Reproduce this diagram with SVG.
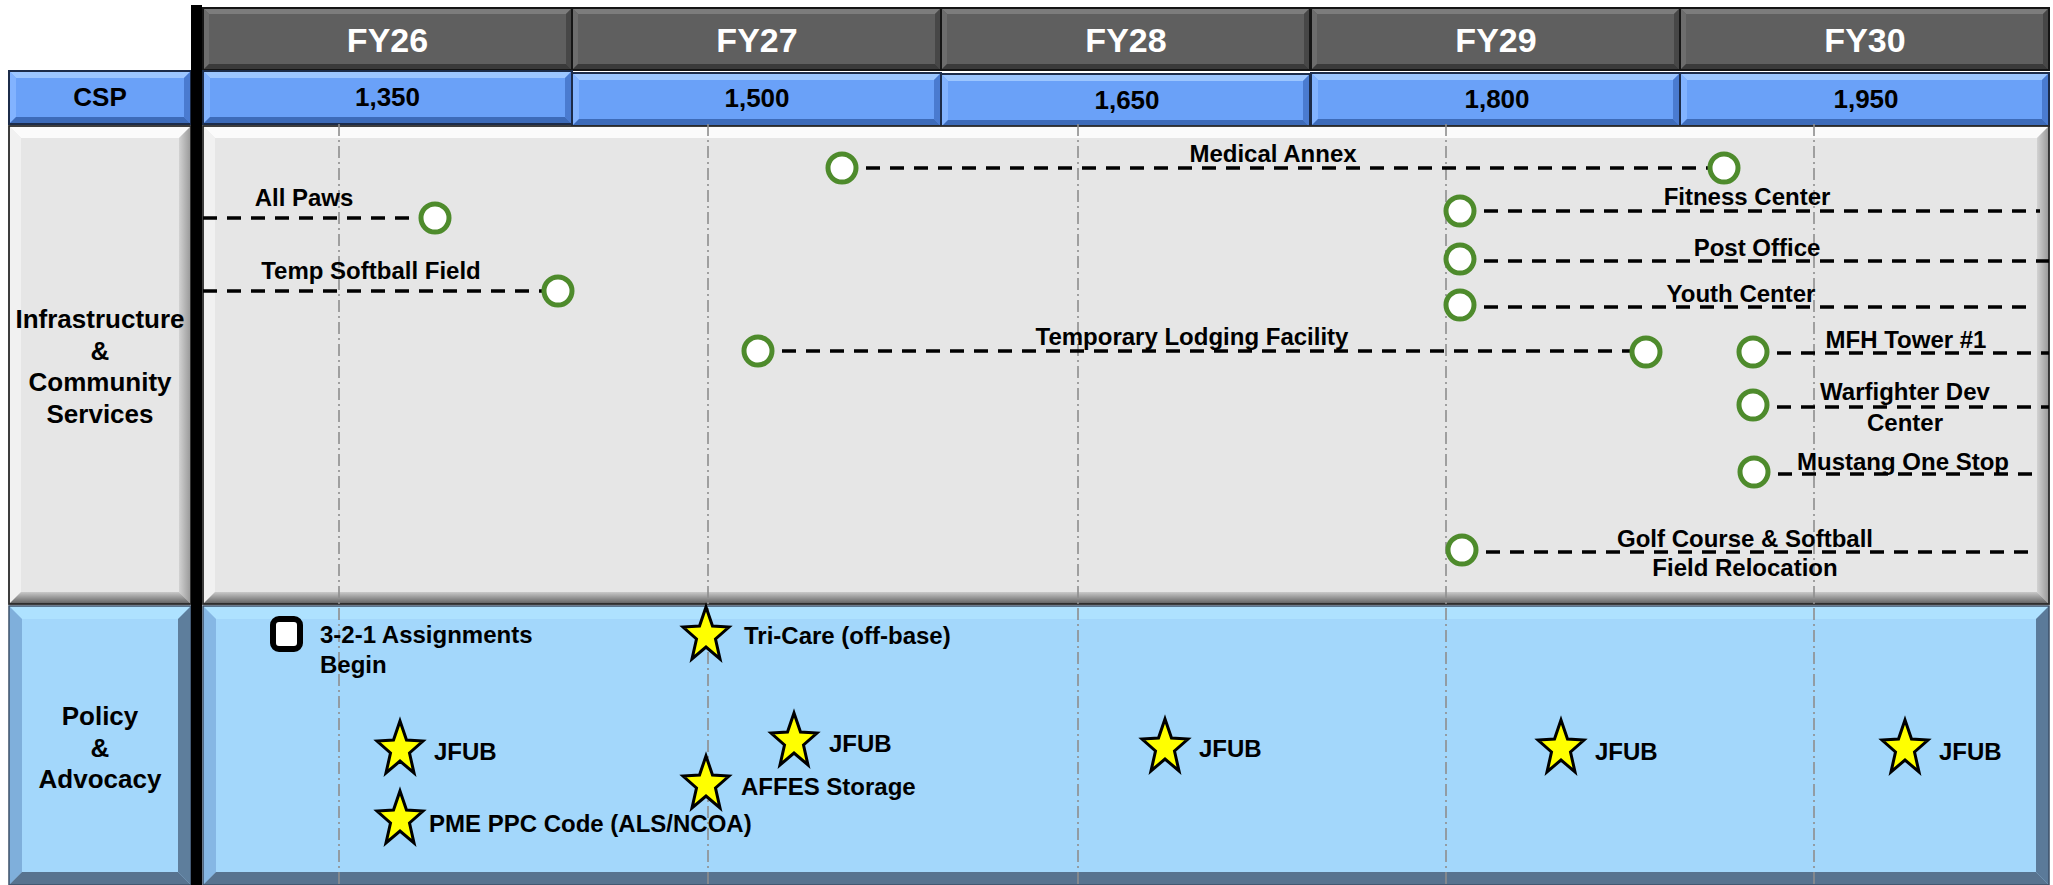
<svg xmlns="http://www.w3.org/2000/svg" xmlns:xlink="http://www.w3.org/1999/xlink" width="2053" height="885" viewBox="0 0 2053 885">
<style>
text{font-family:"Liberation Sans",Arial,sans-serif;font-weight:bold;fill:#000}
.fy{font-size:34px;fill:#fff;text-anchor:middle}
.csp{font-size:26px;text-anchor:middle}
.sec{font-size:26px;text-anchor:middle}
.it{font-size:24px;text-anchor:middle}
.pl{font-size:24px}
.ms{fill:#fff;stroke:#4e8b2c;stroke-width:5}
.dash{stroke:#000;stroke-width:3.5;stroke-dasharray:14 10;fill:none}
.grid{stroke:#8e8e8e;stroke-width:1.6;stroke-dasharray:12 4 2 4;fill:none}
.st{fill:#ffff00;stroke:#000;stroke-width:3;stroke-linejoin:miter}
</style>
<defs>
<linearGradient id="gBot" x1="0" y1="0" x2="0" y2="1"><stop offset="0" stop-color="#c9c9c9"/><stop offset="1" stop-color="#5e5e5e"/></linearGradient>
<linearGradient id="gRight" x1="0" y1="0" x2="1" y2="0"><stop offset="0" stop-color="#d2d2d2"/><stop offset="1" stop-color="#979797"/></linearGradient>
<g id="fyBox">
<rect width="369" height="62" fill="#5f5f5f"/>
<polygon points="0,0 369,0 363,6 6,6" fill="#7c7c7c"/>
<polygon points="0,0 6,6 6,56 0,62" fill="#6d6d6d"/>
<polygon points="369,0 369,62 363,56 363,6" fill="#474747"/>
<polygon points="0,62 6,56 363,56 369,62" fill="#3a3a3a"/>
<rect width="369" height="62" fill="none" stroke="#151515" stroke-width="2"/>
</g>
<g id="cspBox">
<rect width="369" height="53" fill="#6aa1f8"/>
<polygon points="0,0 369,0 362,7 7,7" fill="#9cc6ff"/>
<polygon points="0,0 7,7 7,46 0,53" fill="#82b3ff"/>
<polygon points="369,0 369,53 362,46 362,7" fill="#4a7bd0"/>
<polygon points="0,53 7,46 362,46 369,53" fill="#3d6bb9"/>
<rect width="369" height="53" fill="none" stroke="#1c2c4a" stroke-width="2"/>
</g>
<path id="star" d="M0,-26 L6.5,-7 L23,-6 L9.5,6 L14,26 L0,14 L-14,26 L-9.5,6 L-23,-6 L-6.5,-7 Z"/>
</defs>
<rect width="2053" height="885" fill="#fff"/>

<g id="header-row">
<use xlink:href="#fyBox" x="203" y="8"/>
<use xlink:href="#fyBox" x="572" y="8"/>
<use xlink:href="#fyBox" x="941" y="8"/>
<use xlink:href="#fyBox" x="1311" y="8"/>
<use xlink:href="#fyBox" x="1680" y="8"/>
<text class="fy" x="387.5" y="52">FY26</text>
<text class="fy" x="757" y="52">FY27</text>
<text class="fy" x="1126" y="52">FY28</text>
<text class="fy" x="1496" y="52">FY29</text>
<text class="fy" x="1865" y="52">FY30</text>
</g>

<g id="csp-row">
<g transform="translate(9,71)">
<rect width="182" height="53" fill="#6aa1f8"/>
<polygon points="0,0 182,0 175,7 7,7" fill="#9cc6ff"/>
<polygon points="0,0 7,7 7,46 0,53" fill="#82b3ff"/>
<polygon points="182,0 182,53 175,46 175,7" fill="#4a7bd0"/>
<polygon points="0,53 7,46 175,46 182,53" fill="#3d6bb9"/>
<rect width="182" height="53" fill="none" stroke="#1c2c4a" stroke-width="2"/>
</g>
<use xlink:href="#cspBox" x="203" y="71"/>
<use xlink:href="#cspBox" x="572" y="73"/>
<use xlink:href="#cspBox" x="941" y="74"/>
<use xlink:href="#cspBox" x="1311" y="73"/>
<use xlink:href="#cspBox" x="1680" y="73"/>
<text class="csp" x="100" y="106">CSP</text>
<text class="csp" x="387.5" y="106">1,350</text>
<text class="csp" x="757" y="107">1,500</text>
<text class="csp" x="1127" y="109">1,650</text>
<text class="csp" x="1497" y="108">1,800</text>
<text class="csp" x="1866" y="108">1,950</text>
</g>

<g id="infra-section">
<g transform="translate(9,126)">
<rect width="182" height="478" fill="#e6e6e6"/>
<polygon points="0,0 182,0 170,12 12,12" fill="#fbfbfb"/>
<polygon points="0,0 12,12 12,466 0,478" fill="#f1f1f1"/>
<polygon points="182,0 182,478 170,466 170,12" fill="url(#gRight)"/>
<polygon points="0,478 12,466 170,466 182,478" fill="url(#gBot)"/>
<rect width="182" height="478" fill="none" stroke="#2a2a2a" stroke-width="1.8"/>
</g>
<g transform="translate(203,126)">
<rect width="1846" height="478" fill="#e6e6e6"/>
<polygon points="0,0 1846,0 1834,12 12,12" fill="#fbfbfb"/>
<polygon points="0,0 12,12 12,466 0,478" fill="#f1f1f1"/>
<polygon points="1846,0 1846,478 1834,466 1834,12" fill="url(#gRight)"/>
<polygon points="0,478 12,466 1834,466 1846,478" fill="url(#gBot)"/>
<rect width="1846" height="478" fill="none" stroke="#2a2a2a" stroke-width="1.8"/>
</g>
<text class="sec" x="100" y="328">Infrastructure</text>
<text class="sec" x="100" y="360">&amp;</text>
<text class="sec" x="100" y="391">Community</text>
<text class="sec" x="100" y="423">Services</text>
</g>

<g id="policy-section">
<g transform="translate(9,606)">
<rect width="182" height="279" fill="#a3d7fb"/>
<polygon points="0,0 182,0 169,13 13,13" fill="#aee2ff"/>
<polygon points="0,0 13,13 13,266 0,279" fill="#7fafdb"/>
<polygon points="182,0 182,279 169,266 169,13" fill="#5e7e9c"/>
<polygon points="0,279 13,266 169,266 182,279" fill="#58738f"/>
<rect width="182" height="279" fill="none" stroke="#3c5068" stroke-width="1.5"/>
</g>
<g transform="translate(203,606)">
<rect width="1846" height="279" fill="#a3d7fb"/>
<polygon points="0,0 1846,0 1833,13 13,13" fill="#aee2ff"/>
<polygon points="0,0 13,13 13,266 0,279" fill="#86b7e4"/>
<polygon points="1846,0 1846,279 1833,266 1833,13" fill="#5b7a99"/>
<polygon points="0,279 13,266 1833,266 1846,279" fill="#58738f"/>
<rect width="1846" height="279" fill="none" stroke="#3c5068" stroke-width="1.5"/>
</g>
<text class="sec" x="100" y="725">Policy</text>
<text class="sec" x="100" y="757">&amp;</text>
<text class="sec" x="100" y="788">Advocacy</text>
</g>

<g id="gridlines">
<path class="grid" d="M339,124 V885 M708,124 V885 M1078,124 V885 M1446,124 V885 M1814,124 V885"/>
</g>

<rect id="divider-bar" x="191" y="5" width="11" height="880" fill="#000"/>

<g id="connectors">
<path class="dash" d="M203,218 H436"/>
<path class="dash" d="M203,291 H558"/>
<path class="dash" d="M842,168 H1724"/>
<path class="dash" d="M1460,211 H2040"/>
<path class="dash" d="M1460,261 H2049"/>
<path class="dash" d="M1460,307 H2036"/>
<path class="dash" d="M758,351 H1646"/>
<path class="dash" d="M1753,353 H2049"/>
<path class="dash" d="M1753,407 H2049"/>
<path class="dash" d="M1754,474 H2040"/>
<path class="dash" d="M1462,552 H2036"/>
</g>

<g id="n-all-paws"><circle class="ms" cx="435" cy="218" r="14"/><text class="it" x="304" y="206">All Paws</text></g>
<g id="n-temp-softball"><circle class="ms" cx="558" cy="291" r="14"/><text class="it" x="371" y="279">Temp Softball Field</text></g>
<g id="n-medical-annex"><circle class="ms" cx="842" cy="168" r="14"/><circle class="ms" cx="1724" cy="168" r="14"/><text class="it" x="1273" y="162">Medical Annex</text></g>
<g id="n-fitness"><circle class="ms" cx="1460" cy="211" r="14"/><text class="it" x="1747" y="205">Fitness Center</text></g>
<g id="n-post-office"><circle class="ms" cx="1460" cy="259" r="14"/><text class="it" x="1757" y="256">Post Office</text></g>
<g id="n-youth"><circle class="ms" cx="1460" cy="305" r="14"/><text class="it" x="1741" y="302">Youth Center</text></g>
<g id="n-lodging"><circle class="ms" cx="758" cy="351" r="14"/><circle class="ms" cx="1646" cy="352" r="14"/><text class="it" x="1192" y="345">Temporary Lodging Facility</text></g>
<g id="n-mfh"><circle class="ms" cx="1753" cy="352" r="14"/><text class="it" x="1906" y="348">MFH Tower #1</text></g>
<g id="n-warfighter"><circle class="ms" cx="1753" cy="405" r="14"/><text class="it" x="1905" y="400">Warfighter Dev</text><text class="it" x="1905" y="431">Center</text></g>
<g id="n-mustang"><circle class="ms" cx="1754" cy="472" r="14"/><text class="it" x="1903" y="470">Mustang One Stop</text></g>
<g id="n-golf"><circle class="ms" cx="1462" cy="550" r="14"/><text class="it" x="1745" y="547">Golf Course &amp; Softball</text><text class="it" x="1745" y="576">Field Relocation</text></g>

<g id="n-321"><rect x="273" y="619" width="27" height="30" rx="6" fill="#fff" stroke="#000" stroke-width="6"/><text class="pl" x="320" y="643">3-2-1 Assignments</text><text class="pl" x="320" y="673">Begin</text></g>
<g id="n-jfub26"><use xlink:href="#star" class="st" x="400" y="747"/><text class="pl" x="434" y="760">JFUB</text></g>
<g id="n-pme"><use xlink:href="#star" class="st" x="400" y="817"/><text class="pl" x="429" y="832">PME PPC Code (ALS/NCOA)</text></g>
<g id="n-tricare"><use xlink:href="#star" class="st" x="706" y="633"/><text class="pl" x="744" y="644">Tri-Care (off-base)</text></g>
<g id="n-affes"><use xlink:href="#star" class="st" x="706" y="782"/><text class="pl" x="741" y="795">AFFES Storage</text></g>
<g id="n-jfub27"><use xlink:href="#star" class="st" x="794" y="739"/><text class="pl" x="829" y="752">JFUB</text></g>
<g id="n-jfub28"><use xlink:href="#star" class="st" x="1165" y="745"/><text class="pl" x="1199" y="757">JFUB</text></g>
<g id="n-jfub29"><use xlink:href="#star" class="st" x="1561" y="746"/><text class="pl" x="1595" y="760">JFUB</text></g>
<g id="n-jfub30"><use xlink:href="#star" class="st" x="1905" y="746"/><text class="pl" x="1939" y="760">JFUB</text></g>
</svg>
